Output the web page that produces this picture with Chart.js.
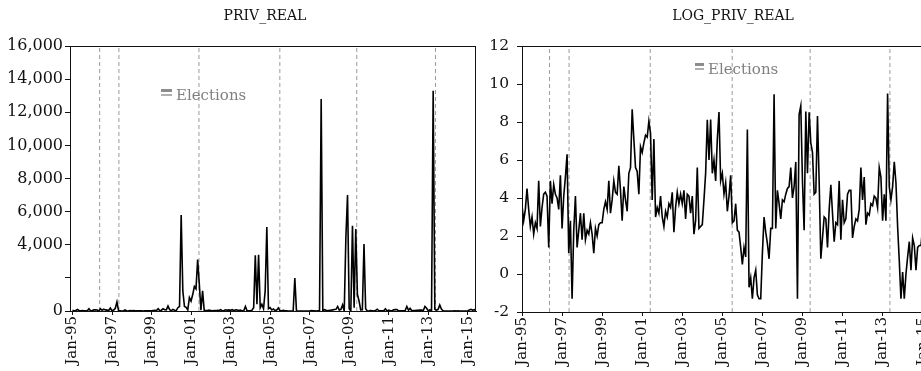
<!DOCTYPE html>
<html><head><meta charset="utf-8">
<script src="https://cdn.jsdelivr.net/npm/chart.js@4.4.1/dist/chart.umd.min.js"></script>
<style>
html,body{margin:0;padding:0;background:#fff;overflow:hidden;width:921px;height:371px;}
#c1{position:absolute;left:0;top:0;}
#c2{position:absolute;left:480px;top:0;}
</style></head><body>
<canvas id="c1" width="492" height="371"></canvas>
<canvas id="c2" width="470" height="371"></canvas>
<script>
// ---- data (monthly, Jan-95 = index 0) ----
const xTickMonths = [0,24,48,72,96,120,144,168,192,216,240];
const xTickLabels = ['Jan-95','Jan-97','Jan-99','Jan-01','Jan-03','Jan-05','Jan-07','Jan-09','Jan-11','Jan-13','Jan-15'];
const electionMonths = [16.5, 28.2, 76.8, 125.9, 172.6, 220.4];
const electionLabel = 'Elections';

const privReal = [
 37,16,30,90,30,12,20,8,15,11,
 134,12,33,67,74,60,4,134,40,110,
 67,55,30,181,11,60,164,545,3,16,
 0.3,10,60,4,10,25,6,25,6,10,
 8,15,8,3,11,7,13,15,15,30,
 45,30,134,25,49,134,74,67,299,81,
 16,99,49,27,200,270,5800,1212,270,221,
 67,812,602,992,1480,1339,3100,1636,49,1212,
 20,33,25,60,20,12,27,20,40,33,
 74,9,33,74,40,67,40,81,18,67,
 60,25,60,8,16,270,11,12,13,49,
 200,3360,403,3400,200,403,134,1212,5070,134,
 200,67,122,27,60,181,15,16,40,10,
 9,4,1.6,4,2.5,1990,0.5,0.8,0.3,0.8,
 1.2,0.3,0.3,0.3,3,20,9,5,2.2,11,
 11,12800,11,81,40,18,49,45,67,90,
 99,270,55,99,365,0.3,4447,7000,134,10,
 5150,200,4950,992,602,67,74,4050,134,2.2,
 6.7,20,18,4,30,110,25,5.5,15,13,
 134,6,49,15,18,67,81,81,6.7,12,
 18,16,30,270,49,164,13,25,22,40,
 37,60,55,33,270,164,16,67,16,13300,
 99,49,99,365,122,12,2,0.3,1.1,0.3,
 1,2.5,5.5,1.2,6.7,4.5,1.2,4,4.5,4.5,
 12,55,99,45,81,20
];

const logPrivReal = [
 3.6,2.8,3.4,4.5,3.4,2.5,3.0,2.1,2.7,2.4,
 4.9,2.5,3.5,4.2,4.3,4.1,1.4,4.9,3.7,4.7,
 4.2,4.0,3.4,5.2,2.4,4.1,5.1,6.3,1.1,2.8,
 -1.3,2.3,4.1,1.4,2.3,3.2,1.8,3.2,1.8,2.3,
 2.1,2.7,2.1,1.1,2.4,2.0,2.6,2.7,2.7,3.4,
 3.8,3.4,4.9,3.2,3.9,4.9,4.3,4.2,5.7,4.4,
 2.8,4.6,3.9,3.3,5.3,5.6,8.67,7.1,5.6,5.4,
 4.2,6.7,6.4,6.9,7.3,7.2,8.04,7.4,3.9,7.1,
 3.0,3.5,3.2,4.1,3.0,2.5,3.3,3.0,3.7,3.5,
 4.3,2.2,3.5,4.3,3.7,4.2,3.7,4.4,2.9,4.2,
 4.1,3.2,4.1,2.1,2.8,5.6,2.4,2.5,2.6,3.9,
 5.3,8.12,6.0,8.13,5.3,6.0,4.9,7.1,8.53,4.9,
 5.3,4.2,4.8,3.3,4.1,5.2,2.7,2.8,3.7,2.3,
 2.2,1.4,0.5,1.4,0.9,7.6,-0.7,-0.2,-1.3,-0.2,
 0.2,-1.1,-1.3,-1.3,1.1,3.0,2.2,1.6,0.8,2.4,
 2.4,9.46,2.4,4.4,3.7,2.9,3.9,3.8,4.2,4.5,
 4.6,5.6,4.0,4.6,5.9,-1.3,8.4,8.85,4.9,2.3,
 8.55,5.3,8.51,6.9,6.4,4.2,4.3,8.31,4.9,0.8,
 1.9,3.0,2.9,1.4,3.4,4.7,3.2,1.7,2.7,2.6,
 4.9,1.8,3.9,2.7,2.9,4.2,4.4,4.4,1.9,2.5,
 2.9,2.8,3.4,5.6,3.9,5.1,2.6,3.2,3.1,3.7,
 3.6,4.1,4.0,3.5,5.6,5.1,2.8,4.2,2.8,9.5,
 4.6,3.9,4.6,5.9,4.8,2.5,0.7,-1.3,0.1,-1.3,
 0.0,0.9,1.7,0.2,1.9,1.5,0.2,1.4,1.5,1.5,
 2.5,4.0,4.6,3.8,4.4,3.0
];

const leftYTicks  = [0,2000,4000,6000,8000,10000,12000,14000,16000];
const leftYLabels = ['0','','4,000','6,000','8,000','10,000','12,000','14,000','16,000'];
const rightYTicks  = [-2,0,2,4,6,8,10,12];
const rightYLabels = ['-2','0','2','4','6','8','10','12'];

// ---- rendering ----
Chart.defaults.font.family = "'DejaVu Serif', serif";
Chart.defaults.color = '#111';

const decor = {
  id: 'decor',
  afterDraw(chart, args, o) {
    const ctx = chart.ctx, a = chart.chartArea;
    ctx.save();
    // plot frame
    ctx.strokeStyle = '#111'; ctx.lineWidth = 1;
    ctx.strokeRect(Math.round(a.left) + 0.5, Math.round(a.top) + 0.5,
                   Math.round(a.right - a.left) - 1, Math.round(a.bottom - a.top));
    // title
    ctx.fillStyle = '#111';
    ctx.font = "14px 'DejaVu Serif'";
    ctx.textAlign = 'center'; ctx.textBaseline = 'alphabetic';
    ctx.fillText(o.title, o.titleX, o.titleY);
    // legend
    ctx.fillStyle = '#8c8c8c';
    ctx.fillRect(o.legX, o.legY - 11, o.markW, 3);
    ctx.fillStyle = '#b0b0b0';
    ctx.fillRect(o.legX, o.legY - 6, o.markW, 2);
    ctx.fillStyle = '#808080';
    ctx.font = "15px 'DejaVu Serif'";
    ctx.textAlign = 'left';
    ctx.fillText(o.label, o.legX + o.markW + 4, o.legY);
    ctx.restore();
  }
};

function electionPoints(lo, hi) {
  const pts = [];
  electionMonths.forEach(m => { pts.push({x: m, y: lo}, {x: m, y: hi}, {x: m, y: null}); });
  return pts;
}

function makeChart(id, values, yTicks, yLabels, xMin, xMax, yWidth, xHeight, padRight, tickPad, ySize, deco) {
  const lo = yTicks[0], hi = yTicks[yTicks.length - 1];
  return new Chart(document.getElementById(id), {
    type: 'line',
    data: {
      datasets: [
        { data: values.map((v, i) => ({x: i, y: v})), borderColor: '#000', borderWidth: 1.6,
          pointRadius: 0, tension: 0, fill: false, order: 1 },
        { data: electionPoints(lo, hi), borderColor: '#9a9a9a', borderWidth: 1, borderDash: [4, 3],
          pointRadius: 0, tension: 0, fill: false, spanGaps: false, order: 2 }
      ]
    },
    options: {
      responsive: false, animation: false, events: [],
      layout: { padding: { left: 0, right: padRight, top: 46, bottom: 0 } },
      plugins: { legend: { display: false }, tooltip: { enabled: false }, title: { display: false }, decor: deco },
      scales: {
        x: {
          type: 'linear', min: xMin, max: xMax,
          afterBuildTicks: s => { s.ticks = xTickMonths.map(v => ({value: v})); },
          afterFit: s => { s.height = xHeight; },
          ticks: { autoSkip: false, minRotation: 90, maxRotation: 90, padding: 1,
                   font: { size: 15 }, color: '#111',
                   callback: (v, i) => xTickLabels[i] },
          grid: { display: true, drawOnChartArea: false, drawTicks: true, tickLength: 4, color: '#111' },
          border: { display: true, color: '#111' }
        },
        y: {
          type: 'linear', min: lo, max: hi,
          afterBuildTicks: s => { s.ticks = yTicks.map(v => ({value: v})); },
          afterFit: s => { s.width = yWidth; },
          ticks: { padding: tickPad, font: { size: ySize }, color: '#111',
                   callback: (v, i) => yLabels[i] },
          grid: { display: true, drawOnChartArea: false, drawTicks: true, tickLength: 5, color: '#111' },
          border: { display: true, color: '#111' }
        }
      }
    },
    plugins: [decor]
  });
}

makeChart('c1', privReal, leftYTicks, leftYLabels, -1.5, 245, 70, 60, 16, 2, 16,
  { title: 'PRIV_REAL', titleX: 265, titleY: 20, label: electionLabel, legX: 161, legY: 100, markW: 11 });
makeChart('c2', logPrivReal, rightYTicks, rightYLabels, 0, 245, 42, 59, 19, 8, 15.5,
  { title: 'LOG_PRIV_REAL', titleX: 253, titleY: 20, label: electionLabel, legX: 215, legY: 74, markW: 9 });
</script>
</body></html>
